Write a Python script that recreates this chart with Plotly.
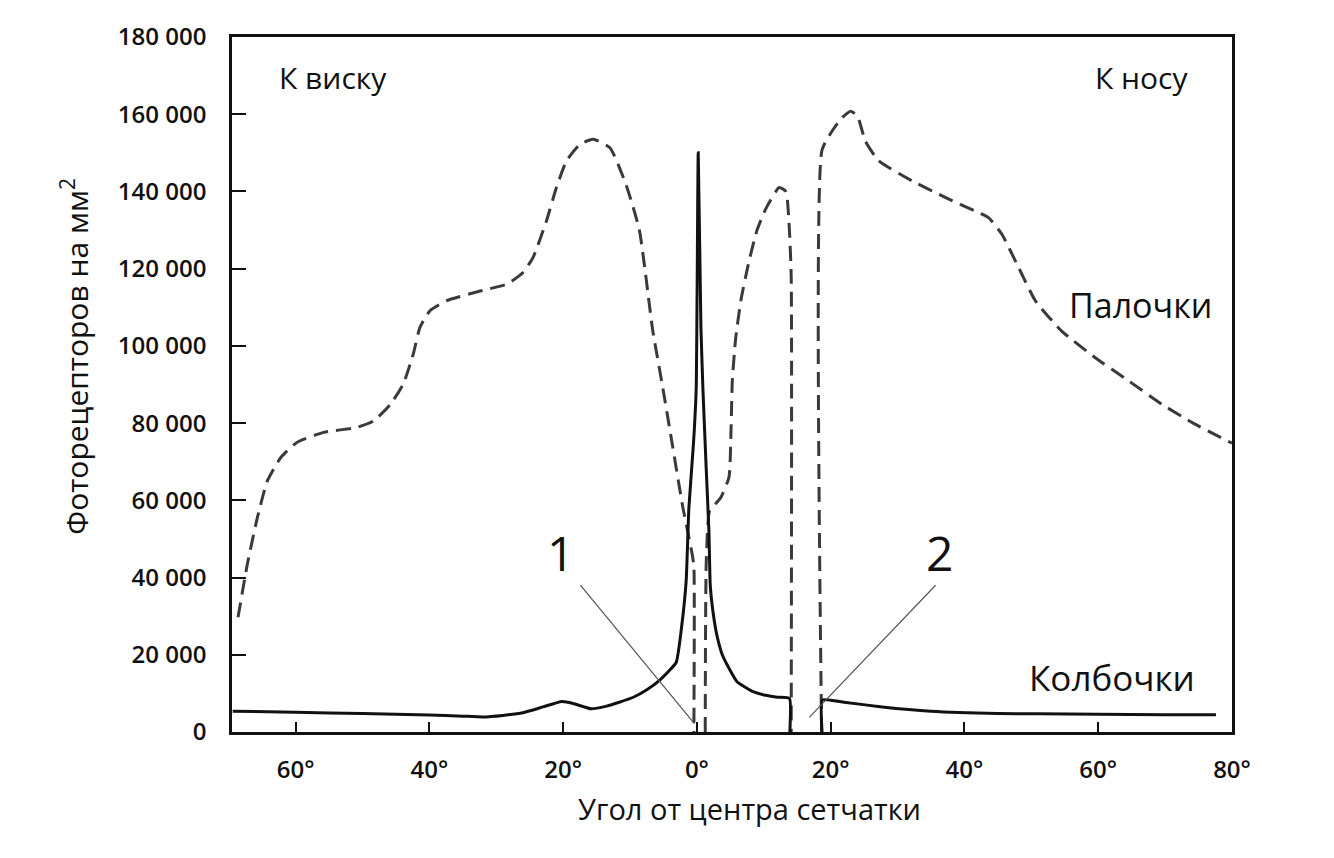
import plotly.graph_objects as go

# ---- data (degrees from retina centre; negative = temporal side) ----
cone_x = [-69.4, -60, -50, -40, -35, -32, -29, -26, -23, -20.2, -18.5, -15.8, -13.5, -11.6,
          -9.5, -7.6, -5.5, -3.1, -2.3, -1.6, -1.2, -0.5, -0.1, 0.2, 0.6, 0.9, 1.4, 1.8,
          2.0, 2.5, 3.0, 3.8, 4.8, 6.0, 7.3, 8.3, 10.3, 12.0, 13.85, 13.9,
          None,
          18.7, 18.75, 22, 27.7, 35, 45, 51, 60, 70, 77.6]
cone_y = [5400, 5100, 4800, 4400, 4100, 3900, 4300, 5000, 6500, 7900, 7400, 6000, 6700, 7700,
          9000, 10800, 13500, 18000, 27000, 39200, 58000, 75000, 89000, 150000, 105000, 89000, 68000, 52000,
          38000, 30000, 25000, 20000, 16500, 13000, 11500, 10500, 9500, 9000, 8700, 0,
          None,
          0, 8300, 7700, 6500, 5400, 4800, 4700, 4600, 4500, 4500]

rod_x = [-68.6, -67.2, -65.7, -64.2, -62.2, -59.8, -55.8, -50.8, -48.3, -45.8, -43.9, -42.4,
         -41.4, -39.9, -37.4, -32.4, -28.4, -26.0, -24.5, -22.5, -21.0, -19.5, -17.5, -15.5,
         -13.0, -10.6, -8.6, -6.6, -5.1, -3.6, -2.1, -1.4, -0.7, -0.45, -0.45,
         None,
         1.25, 1.4, 1.9, 3.0, 3.6, 4.8, 5.1, 5.3, 5.8, 6.6, 7.8, 9.0, 10.3, 12.3, 13.3, 13.8, 14.1, 14.1,
         None,
         18.65, 18.7, 20.2, 21.7, 23.0, 24.0, 25.2, 27.2, 32.2, 37.2, 41.6, 43.6, 45.6, 48.1,
         50.6, 54.5, 59.5, 64.5, 69.5, 74.4, 80.0]
rod_y = [29700, 43500, 55600, 65100, 71100, 75000, 77600, 78900, 80600, 84900, 90100, 97900,
         104800, 109100, 111700, 114200, 116000, 119000, 122900, 132300, 141000, 147900, 152200, 153500,
         151300, 141800, 130000, 104000, 89200, 73700, 58200, 52200, 46000, 43000, 0,
         None,
         0, 44000, 57300, 59500, 60800, 66000, 78000, 91000, 102000, 112000, 122000, 130000, 135500, 141000, 140000, 131000, 118000, 0,
         None,
         0, 150700, 155600, 159100, 160800, 159500, 153000, 147900, 142700, 138400, 134900, 133200, 128900, 120300,
         111700, 103900, 97000, 91000, 84900, 79800, 74800]

x_tick_vals = [-60, -40, -20, 0, 20, 40, 60, 80]
x_tick_text = ["60°", "40°", "20°", "0°", "20°", "40°", "60°", "80°"]
y_tick_vals = [0, 20000, 40000, 60000, 80000, 100000, 120000, 140000, 160000, 180000]
y_tick_text = ["0", "20 000", "40 000", "60 000", "80 000", "100 000", "120 000",
               "140 000", "160 000", "180 000"]

# callout labels "1" (fovea) and "2" (blind spot): label text, line start, line end
callout_text = ["1", "2"]
callout_label_x = [-20.4, 36.3]
callout_label_y = [46500, 46500]
callout_start_x = [-17.6, 35.9]
callout_start_y = [38400, 38400]
callout_end_x = [-0.37, 16.8]
callout_end_y = [2200, 3800]

FONT = "Open Sans"
INK = "#111111"

fig = go.Figure()
fig.add_trace(go.Scatter(x=rod_x, y=rod_y, mode="lines", name="Палочки",
                         line=dict(color="#3a3a3a", width=3, dash="15px,8px",
                                   shape="spline", smoothing=0.5),
                         connectgaps=False, hoverinfo="skip"))
fig.add_trace(go.Scatter(x=cone_x, y=cone_y, mode="lines", name="Колбочки",
                         line=dict(color=INK, width=3, shape="spline", smoothing=0.4),
                         connectgaps=False, hoverinfo="skip"))

for i in range(len(callout_text)):
    fig.add_annotation(x=callout_end_x[i], y=callout_end_y[i], ax=callout_start_x[i], ay=callout_start_y[i],
                       xref="x", yref="y", axref="x", ayref="y", text="", showarrow=True,
                       arrowhead=0, arrowwidth=1.2, arrowcolor="#555555")
    fig.add_annotation(x=callout_label_x[i], y=callout_label_y[i], xref="x", yref="y",
                       text=callout_text[i], showarrow=False, xanchor="center", yanchor="middle",
                       font=dict(family=FONT, size=48, color=INK))

texts = [("К виску", 0.101, 0.942, 30), ("К носу", 0.909, 0.942, 30),
         ("Палочки", 0.908, 0.615, 34), ("Колбочки", 0.88, 0.079, 35)]
for t, px, py, sz in texts:
    fig.add_annotation(x=px, y=py, xref="paper", yref="paper", text=t, showarrow=False,
                       xanchor="center", yanchor="middle",
                       font=dict(family=FONT, size=sz, color=INK))

fig.add_annotation(x=0.517, y=-0.11, xref="paper", yref="paper", text="Угол от центра сетчатки",
                   showarrow=False, xanchor="center", yanchor="middle",
                   font=dict(family=FONT, size=29, color=INK))
fig.add_annotation(x=-0.157, y=0.54, xref="paper", yref="paper", text="Фоторецепторов на мм<sup>2</sup>",
                   textangle=-90, showarrow=False, xanchor="center", yanchor="middle",
                   font=dict(family=FONT, size=30, color=INK))

axis_common = dict(showline=True, linecolor=INK, linewidth=2.5, mirror=True,
                   showgrid=False, zeroline=False, ticks="inside", tickcolor=INK,
                   tickwidth=2)
fig.update_xaxes(range=[-69.5, 80], tickvals=x_tick_vals, ticktext=x_tick_text, ticklen=10,
                 tickfont=dict(family=FONT, size=24, color=INK, weight=600),
                 ticklabelstandoff=14, **axis_common)
fig.update_yaxes(range=[0, 180000], tickvals=y_tick_vals, ticktext=y_tick_text, ticklen=14,
                 tickfont=dict(family=FONT, size=24, color=INK, weight=600),
                 ticklabelstandoff=18, **axis_common)

fig.update_layout(width=1318, height=842, showlegend=False,
                  margin=dict(l=224, r=94, t=29, b=118),
                  paper_bgcolor="white", plot_bgcolor="white")

fig.write_html("out.html")
